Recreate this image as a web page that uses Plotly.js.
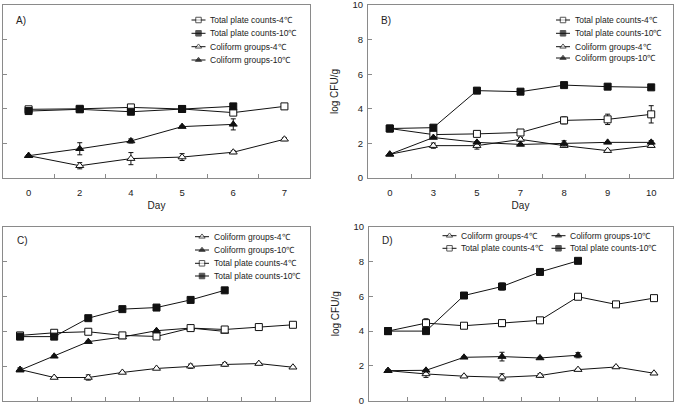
<!DOCTYPE html>
<html>
<head>
<meta charset="utf-8">
<script src="https://cdn.plot.ly/plotly-3.0.1.min.js"></script>
<style>
  html, body { margin: 0; padding: 0; background: #fff; }
  #chart { width: 679px; height: 412px; }
</style>
</head>
<body>
<div id="chart"></div>
<script>
// ---------- Panel A ----------
const daysA = ['0', '2', '4', '5', '6', '7'];
const aTpc4 = [3.97, 4.00, 4.08, 3.99, 3.78, 4.14];
const aTpc4Err = [0.10, 0.06, 0.05, 0.05, 0.12, 0.15];
const aTpc10 = [3.87, 3.97, 3.83, 3.99, 4.14];
const aTpc10Err = [0.05, 0.05, 0.05, 0.05, 0.05];
const aCol4 = [1.29, 0.71, 1.12, 1.21, 1.49, 2.24];
const aCol4Err = [0.05, 0.18, 0.35, 0.20, 0.08, 0.08];
const aCol10 = [1.29, 1.69, 2.14, 2.97, 3.10];
const aCol10Err = [0.05, 0.35, 0.12, 0.05, 0.32];

// ---------- Panel B ----------
const daysB = ['0', '3', '5', '7', '8', '9', '10'];
const bTpc4 = [2.86, 2.51, 2.55, 2.63, 3.33, 3.39, 3.68];
const bTpc4Err = [0.05, 0.08, 0.05, 0.10, 0.20, 0.30, 0.50];
const bTpc10 = [2.86, 2.91, 5.05, 4.99, 5.37, 5.28, 5.24];
const bTpc10Err = [0.08, 0.05, 0.15, 0.05, 0.10, 0.15, 0.05];
const bCol4 = [1.37, 1.87, 1.87, 2.23, 1.87, 1.58, 1.87];
const bCol4Err = [0.05, 0.15, 0.20, 0.10, 0.08, 0.05, 0.10];
const bCol10 = [1.37, 2.34, 2.06, 1.94, 2.00, 2.06, 2.06];
const bCol10Err = [0.05, 0.05, 0.05, 0.05, 0.15, 0.05, 0.10];

// ---------- Panel C ----------
const daysC = ['0', '2', '4', '5', '6', '7', '8', '9', '10'];
const cCol4 = [1.81, 1.35, 1.35, 1.64, 1.87, 2.00, 2.10, 2.15, 1.94];
const cCol4Err = [0.10, 0.05, 0.15, 0.05, 0.05, 0.12, 0.10, 0.05, 0.05];
const cCol10 = [1.77, 2.57, 3.41, 3.68, 4.04, 4.19, 4.00];
const cCol10Err = [0.05, 0.05, 0.05, 0.05, 0.05, 0.05, 0.05];
const cTpc4 = [3.77, 3.92, 3.98, 3.77, 3.71, 4.19, 4.11, 4.25, 4.38];
const cTpc4Err = [0.05, 0.05, 0.05, 0.05, 0.05, 0.15, 0.05, 0.05, 0.05];
const cTpc10 = [3.70, 3.70, 4.76, 5.28, 5.37, 5.81, 6.36];
const cTpc10Err = [0.05, 0.05, 0.10, 0.05, 0.05, 0.10, 0.10];

// ---------- Panel D ----------
const daysD = ['0', '1', '2', '3', '4', '5', '6', '7'];
const dCol4 = [1.72, 1.53, 1.40, 1.34, 1.44, 1.78, 1.93, 1.57];
const dCol4Err = [0.05, 0.20, 0.05, 0.20, 0.10, 0.05, 0.05, 0.05];
const dCol10 = [1.72, 1.74, 2.49, 2.53, 2.45, 2.61];
const dCol10Err = [0.05, 0.05, 0.05, 0.25, 0.05, 0.15];
const dTpc4 = [4.00, 4.46, 4.31, 4.46, 4.62, 5.98, 5.54, 5.90];
const dTpc4Err = [0.05, 0.25, 0.05, 0.20, 0.10, 0.05, 0.05, 0.05];
const dTpc10 = [4.00, 4.00, 6.05, 6.57, 7.41, 8.05];
const dTpc10Err = [0.05, 0.05, 0.05, 0.20, 0.05, 0.05];

const labels = {
  tpc4: 'Total plate counts-4\u2103',
  tpc10: 'Total plate counts-10\u2103',
  col4: 'Coliform groups-4\u2103',
  col10: 'Coliform groups-10\u2103'
};

// ---------- Styling ----------
const W = 679, H = 412;
const FONT = 'Liberation Sans, Arial, sans-serif';
const GREY = '#8a8a8a';
const INK = '#111';

const markerStyle = {
  tpc4:  { symbol: 'square',      color: '#fff', size: 7 },
  tpc10: { symbol: 'square',      color: INK,    size: 7 },
  col4:  { symbol: 'triangle-up', color: '#fff', size: 7 },
  col10: { symbol: 'triangle-up', color: INK,    size: 7 }
};

function series(kind, days, y, err, xa, ya) {
  const m = markerStyle[kind];
  return {
    type: 'scatter', mode: 'lines+markers',
    name: labels[kind], showlegend: false,
    x: days.slice(0, y.length), y: y,
    xaxis: xa, yaxis: ya,
    line: { color: INK, width: 1 },
    marker: { symbol: m.symbol, size: m.size, color: m.color, line: { color: INK, width: 1 } },
    error_y: { type: 'data', array: err, visible: true, color: INK, thickness: 1, width: 2.5 },
    hoverinfo: 'x+y+name'
  };
}

const traces = [
  series('tpc4',  daysA, aTpc4,  aTpc4Err,  'x', 'y'),
  series('tpc10', daysA, aTpc10, aTpc10Err, 'x', 'y'),
  series('col4',  daysA, aCol4,  aCol4Err,  'x', 'y'),
  series('col10', daysA, aCol10, aCol10Err, 'x', 'y'),

  series('tpc4',  daysB, bTpc4,  bTpc4Err,  'x2', 'y2'),
  series('tpc10', daysB, bTpc10, bTpc10Err, 'x2', 'y2'),
  series('col4',  daysB, bCol4,  bCol4Err,  'x2', 'y2'),
  series('col10', daysB, bCol10, bCol10Err, 'x2', 'y2'),

  series('col4',  daysC, cCol4,  cCol4Err,  'x3', 'y3'),
  series('col10', daysC, cCol10, cCol10Err, 'x3', 'y3'),
  series('tpc4',  daysC, cTpc4,  cTpc4Err,  'x3', 'y3'),
  series('tpc10', daysC, cTpc10, cTpc10Err, 'x3', 'y3'),

  series('col4',  daysD, dCol4,  dCol4Err,  'x4', 'y4'),
  series('col10', daysD, dCol10, dCol10Err, 'x4', 'y4'),
  series('tpc4',  daysD, dTpc4,  dTpc4Err,  'x4', 'y4'),
  series('tpc10', daysD, dTpc10, dTpc10Err, 'x4', 'y4')
];

// Panel boxes in pixels: [left, right, top, bottom]
const boxes = {
  A: [3, 310, 5, 178],
  B: [368, 673, 5, 178],
  C: [3, 310, 227, 401],
  D: [369, 673, 227, 400.5]
};

// The left column sits against the page edge and the lower row against the
// bottom edge, so those labels/titles fall outside the page.
function xAxis(box, days, anchor, withTitle) {
  return {
    type: 'category', categoryorder: 'array', categoryarray: days,
    domain: [box[0] / W, box[1] / W], anchor: anchor,
    range: [-0.5, days.length - 0.5], fixedrange: true,
    tickson: 'boundaries', ticks: 'inside', ticklen: 4, tickcolor: GREY, tickwidth: 1,
    showline: true, mirror: true, linecolor: GREY, linewidth: 1,
    showgrid: false, zeroline: false,
    ticklabelstandoff: 6, ticklabeloverflow: 'allow',
    tickfont: { family: FONT, size: 9.5, color: '#222' },
    title: withTitle
      ? { text: 'Day', font: { family: FONT, size: 10, color: '#222' }, standoff: 4 }
      : { text: '' }
  };
}

function yAxis(box, anchor, withLabels) {
  return {
    domain: [1 - box[3] / H, 1 - box[2] / H], anchor: anchor,
    range: [0, 10], tick0: 0, dtick: 2, fixedrange: true,
    ticks: 'inside', ticklen: 4, tickcolor: GREY, tickwidth: 1,
    showline: true, mirror: true, linecolor: GREY, linewidth: 1,
    showgrid: false, zeroline: false,
    showticklabels: withLabels,
    ticklabelstandoff: 2, ticklabeloverflow: 'allow',
    tickfont: { family: FONT, size: 9.5, color: '#222' },
    title: withLabels
      ? { text: 'log CFU/g', font: { family: FONT, size: 10, color: '#222' }, standoff: 12 }
      : { text: '' }
  };
}

// Legend glyph positions (pixel space) and label anchors
const legendItems = [
  // panel A
  { kind: 'tpc4',  cx: 198.5, cy: 20,   tx: 208 },
  { kind: 'tpc10', cx: 198.5, cy: 33.3, tx: 208 },
  { kind: 'col4',  cx: 198.5, cy: 46.7, tx: 208 },
  { kind: 'col10', cx: 198.5, cy: 60,   tx: 208 },
  // panel B
  { kind: 'tpc4',  cx: 563, cy: 20,   tx: 572.5 },
  { kind: 'tpc10', cx: 563, cy: 33.3, tx: 572.5 },
  { kind: 'col4',  cx: 563, cy: 46.7, tx: 572.5 },
  { kind: 'col10', cx: 563, cy: 58,   tx: 572.5 },
  // panel C
  { kind: 'col4',  cx: 202, cy: 236.7, tx: 212 },
  { kind: 'col10', cx: 202, cy: 250,   tx: 212 },
  { kind: 'tpc4',  cx: 202, cy: 263.3, tx: 212 },
  { kind: 'tpc10', cx: 202, cy: 276,   tx: 212 },
  // panel D
  { kind: 'col4',  cx: 449.5, cy: 235.7, tx: 459 },
  { kind: 'col10', cx: 558.5, cy: 235.7, tx: 568 },
  { kind: 'tpc4',  cx: 449.5, cy: 248.3, tx: 459 },
  { kind: 'tpc10', cx: 558.5, cy: 248.3, tx: 568 }
];

const annotations = [];
legendItems.forEach(it => {
  const m = markerStyle[it.kind];
  traces.push({
    type: 'scatter', mode: 'lines+markers', showlegend: false, hoverinfo: 'skip',
    x: [it.cx - 7, it.cx, it.cx + 7], y: [it.cy, it.cy, it.cy],
    xaxis: 'x5', yaxis: 'y5',
    line: { color: INK, width: 1 },
    marker: { symbol: m.symbol, size: [0, 5.5, 0], color: m.color, line: { color: INK, width: 1 } }
  });
  annotations.push({
    xref: 'paper', yref: 'paper', x: it.tx / W, y: 1 - it.cy / H,
    xanchor: 'left', yanchor: 'middle', showarrow: false,
    text: labels[it.kind], font: { family: FONT, size: 8.5, color: '#222' }
  });
});

// Panel letters
[['A)', 14, 20.7], ['B)', 379, 20.7], ['C)', 15, 241], ['D)', 380, 241]].forEach(p => {
  annotations.push({
    xref: 'paper', yref: 'paper', x: p[1] / W, y: 1 - p[2] / H,
    xanchor: 'left', yanchor: 'middle', showarrow: false,
    text: p[0], font: { family: FONT, size: 10, color: '#222' }
  });
});

const layout = {
  width: W, height: H,
  margin: { l: 0, r: 0, t: 0, b: 0 },
  paper_bgcolor: '#fff', plot_bgcolor: 'rgba(0,0,0,0)',
  showlegend: false,
  font: { family: FONT, size: 10, color: '#222' },
  xaxis:  xAxis(boxes.A, daysA, 'y', true),
  yaxis:  yAxis(boxes.A, 'x', false),
  xaxis2: xAxis(boxes.B, daysB, 'y2', true),
  yaxis2: yAxis(boxes.B, 'x2', true),
  xaxis3: xAxis(boxes.C, daysC, 'y3', false),
  yaxis3: yAxis(boxes.C, 'x3', false),
  xaxis4: xAxis(boxes.D, daysD, 'y4', false),
  yaxis4: yAxis(boxes.D, 'x4', true),
  // pixel-space overlay used for the legend glyphs
  xaxis5: { domain: [0, 1], range: [0, W], visible: false, fixedrange: true, anchor: 'y5' },
  yaxis5: { domain: [0, 1], range: [H, 0], visible: false, fixedrange: true, anchor: 'x5' },
  annotations: annotations
};

Plotly.newPlot('chart', traces, layout, { displayModeBar: false, staticPlot: true });
</script>
</body>
</html>
